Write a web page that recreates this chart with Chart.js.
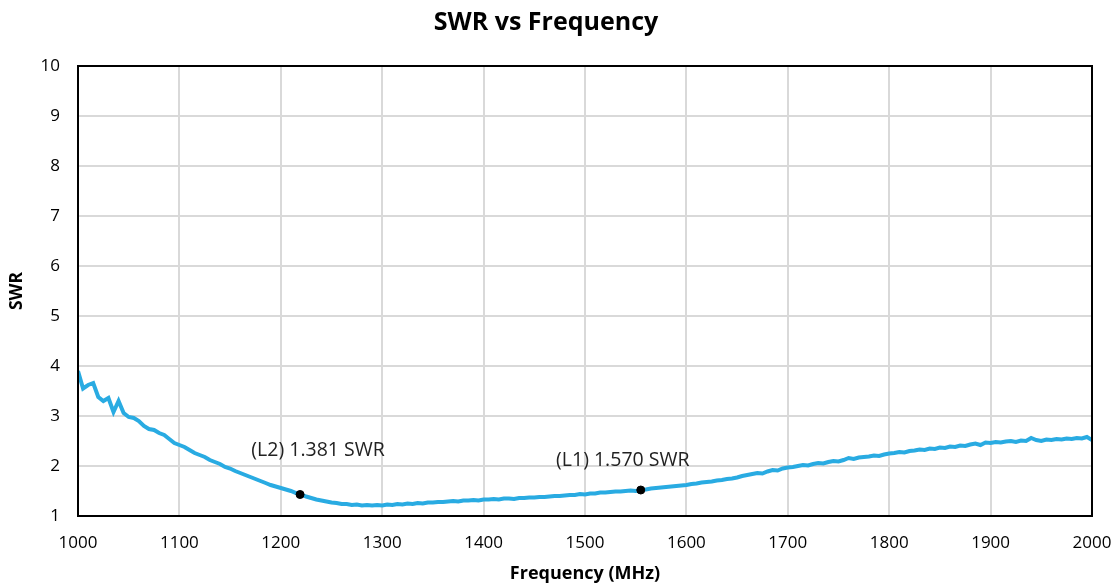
<!DOCTYPE html>
<html lang="en">
<head>
    <meta charset="UTF-8">
    <title>SWR vs Frequency</title>
    <script src="https://cdn.jsdelivr.net/npm/chart.js"></script>
    <style>
        body { margin: 0; background: #fff; }
    </style>
</head>
<body>
    <div style="width: 1120px; height: 586px;">
        <canvas id="swrChart" width="1120" height="586"></canvas>
    </div>

    <script>
        // Frequency sweep (MHz), 5 MHz steps
        const freqs = [];
        for (let f = 1000; f <= 2000; f += 5) freqs.push(f);

        const swrValues = [
            3.90, 3.55, 3.62, 3.66, 3.38, 3.30, 3.36, 3.08, 3.30, 3.06,
            2.98, 2.96, 2.90, 2.80, 2.74, 2.72, 2.66, 2.62, 2.54, 2.46,
            2.42, 2.38, 2.32, 2.26, 2.22, 2.18, 2.12, 2.08, 2.04, 1.98,
            1.95, 1.90, 1.86, 1.82, 1.78, 1.74, 1.70, 1.66, 1.62, 1.59,
            1.56, 1.53, 1.50, 1.46, 1.43, 1.39, 1.36, 1.33, 1.31, 1.29,
            1.27, 1.26, 1.24, 1.24, 1.22, 1.23, 1.21, 1.22, 1.21, 1.22,
            1.21, 1.23, 1.22, 1.24, 1.23, 1.25, 1.24, 1.26, 1.25, 1.27,
            1.27, 1.28, 1.28, 1.29, 1.30, 1.29, 1.31, 1.31, 1.32, 1.31,
            1.33, 1.33, 1.34, 1.33, 1.35, 1.35, 1.34, 1.36, 1.36, 1.37,
            1.37, 1.38, 1.38, 1.39, 1.40, 1.40, 1.41, 1.42, 1.42, 1.44,
            1.43, 1.45, 1.45, 1.47, 1.47, 1.48, 1.49, 1.49, 1.50, 1.51,
            1.50, 1.52, 1.53, 1.55, 1.56, 1.57, 1.58, 1.59, 1.60, 1.61,
            1.62, 1.64, 1.65, 1.67, 1.68, 1.69, 1.71, 1.72, 1.74, 1.75,
            1.77, 1.80, 1.82, 1.84, 1.86, 1.85, 1.89, 1.92, 1.91, 1.95,
            1.97, 1.98, 2.00, 2.02, 2.01, 2.04, 2.06, 2.05, 2.08, 2.10,
            2.09, 2.12, 2.16, 2.14, 2.17, 2.18, 2.19, 2.21, 2.20, 2.23,
            2.25, 2.26, 2.28, 2.27, 2.30, 2.31, 2.33, 2.32, 2.35, 2.34,
            2.37, 2.36, 2.39, 2.38, 2.41, 2.40, 2.43, 2.45, 2.42, 2.47,
            2.46, 2.48, 2.47, 2.49, 2.50, 2.48, 2.51, 2.50, 2.56, 2.52,
            2.50, 2.53, 2.52, 2.54, 2.53, 2.55, 2.54, 2.56, 2.55, 2.58,
            2.52
        ];

        // Markers
        const markerFreqs = [1219, 1555];
        const markerSwr = [1.43, 1.52];
        const markerLabels = ['(L2) 1.381 SWR', '(L1) 1.570 SWR'];
        const markerLabelOffsets = [[18, -44], [-18, -30]];

        // Axis ticks
        const xTicks = [1000, 1100, 1200, 1300, 1400, 1500, 1600, 1700, 1800, 1900, 2000];
        const yTicks = [1, 2, 3, 4, 5, 6, 7, 8, 9, 10];

        const fontFamily = "'Open Sans', sans-serif";

        // Box around plot area + marker labels
        const framePlugin = {
            id: 'frame',
            afterDatasetsDraw(chart) {
                const { ctx, chartArea } = chart;
                ctx.save();
                ctx.strokeStyle = '#000';
                ctx.lineWidth = 2;
                ctx.strokeRect(chartArea.left, chartArea.top,
                    chartArea.right - chartArea.left, chartArea.bottom - chartArea.top);
                ctx.restore();
            },
            afterDraw(chart) {
                const { ctx, scales } = chart;
                ctx.save();
                ctx.fillStyle = '#222';
                ctx.font = "19.5px " + fontFamily;
                ctx.textAlign = 'center';
                ctx.textBaseline = 'middle';
                markerLabels.forEach((txt, i) => {
                    const px = scales.x.getPixelForValue(markerFreqs[i]);
                    const py = scales.y.getPixelForValue(markerSwr[i]);
                    ctx.fillText(txt, px + markerLabelOffsets[i][0], py + markerLabelOffsets[i][1]);
                });
                ctx.restore();
            }
        };

        const ctx = document.getElementById('swrChart').getContext('2d');
        const swrChart = new Chart(ctx, {
            type: 'scatter',
            data: {
                datasets: [{
                    label: 'SWR',
                    data: freqs.map((f, i) => ({ x: f, y: swrValues[i] })),
                    showLine: true,
                    borderColor: '#29abe2',
                    borderWidth: 4,
                    pointRadius: 0,
                    tension: 0,
                    order: 2,
                }, {
                    label: 'Markers',
                    data: markerFreqs.map((f, i) => ({ x: f, y: markerSwr[i] })),
                    showLine: false,
                    pointRadius: 4,
                    pointBackgroundColor: '#000',
                    pointBorderColor: '#000',
                    order: 1,
                }],
            },
            options: {
                responsive: false,
                animation: false,
                layout: { padding: { left: 0, right: 28, top: 0, bottom: 0 } },
                plugins: {
                    legend: { display: false },
                    tooltip: { enabled: false },
                    title: {
                        display: true,
                        text: 'SWR vs Frequency',
                        color: '#000',
                        font: { family: fontFamily, size: 25, weight: 'bold' },
                        padding: { top: 8, bottom: 28 },
                    },
                },
                scales: {
                    x: {
                        type: 'linear',
                        min: 1000,
                        max: 2000,
                        afterBuildTicks: (scale) => { scale.ticks = xTicks.map(v => ({ value: v })); },
                        afterFit: (scale) => {
                            scale.height = 70;
                            scale.paddingLeft = 0;
                            scale.paddingRight = 0;
                        },
                        grid: { color: '#d9d9d9', lineWidth: 2, drawTicks: false },
                        border: { display: false },
                        ticks: {
                            color: '#000', padding: 17, maxRotation: 0,
                            font: { family: fontFamily, size: 17 },
                            callback: (v) => String(v),
                        },
                        title: {
                            display: true,
                            text: 'Frequency (MHz)',
                            color: '#000',
                            font: { family: fontFamily, size: 18, weight: 'bold' },
                            padding: { top: 2, bottom: 1 },
                        },
                    },
                    y: {
                        min: 1,
                        max: 10,
                        afterBuildTicks: (scale) => { scale.ticks = yTicks.map(v => ({ value: v })); },
                        afterFit: (scale) => { scale.width = 78; },
                        grid: { color: '#d9d9d9', lineWidth: 2, drawTicks: false },
                        border: { display: false },
                        ticks: { color: '#000', padding: 18, font: { family: fontFamily, size: 17 } },
                        title: {
                            display: true,
                            text: 'SWR',
                            color: '#000',
                            font: { family: fontFamily, size: 17.5, weight: 'bold' },
                            padding: { top: 7, bottom: 0 },
                        },
                    },
                },
            },
            plugins: [framePlugin],
        });
    </script>
</body>
</html>
